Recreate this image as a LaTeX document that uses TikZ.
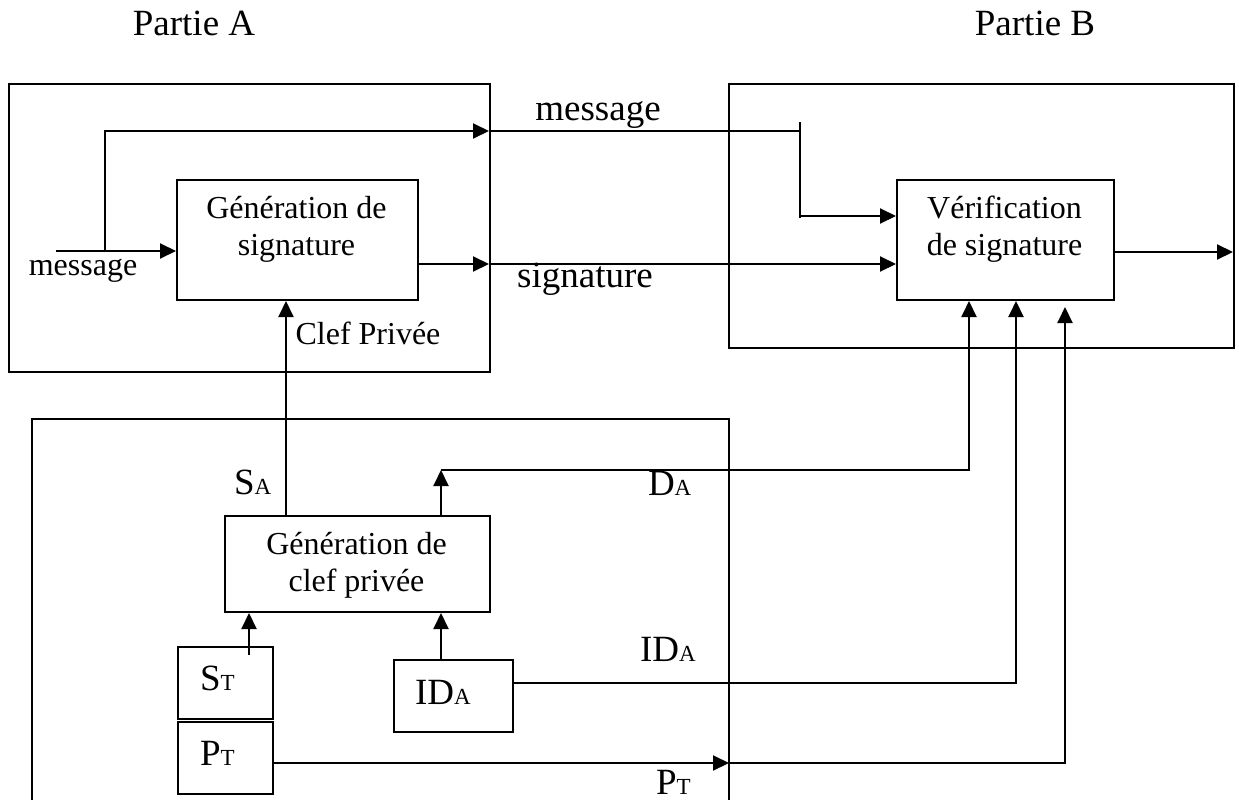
\documentclass[tikz,border=0pt]{standalone}
\usepackage{fontspec}
\setmainfont{Liberation Serif}
\usetikzlibrary{arrows.meta}
\newcommand\lsub[1]{{\fontsize{23}{23}\selectfont #1}}
\begin{document}
\begin{tikzpicture}[x=1pt,y=-1pt,line width=2pt,
  box/.style={draw,line width=2pt,inner sep=0pt,anchor=north west},
  btxt/.style={font=\fontsize{32}{37}\selectfont,align=center,inner sep=0pt},
  lbls/.style={font=\fontsize{32}{37}\selectfont,inner sep=0pt,anchor=base},
  lbl/.style={font=\fontsize{37}{40}\selectfont,inner sep=0pt,anchor=base},
  lblw/.style={font=\fontsize{37}{40}\selectfont,inner sep=0pt,anchor=base west},
  arr/.style={-{Triangle[length=16pt,width=15pt]}}]
\useasboundingbox (0,0) rectangle (1239,800);
\clip (0,0) rectangle (1239,800);
% titles
\node[lbl] (tA) at (194,36) {Partie A};
\node[lbl] (tB) at (1035,36) {Partie B};
% boxes
\node[box,minimum width=481pt,minimum height=288pt] (pA) at (8,83) {};
\node[box,minimum width=505pt,minimum height=264pt] (pB) at (728,83) {};
\node[box,minimum width=241pt,minimum height=120pt] (gs) at (176,179) {};
\node[box,minimum width=217pt,minimum height=120pt] (vs) at (896,179) {};
\node[box,minimum width=265pt,minimum height=96pt] (gk) at (224,515) {};
\node[box,minimum width=95pt,minimum height=72pt] (st) at (177,646) {};
\node[box,minimum width=95pt,minimum height=72pt] (pt) at (177,721) {};
\node[box,minimum width=119pt,minimum height=72pt] (ida) at (393,659) {};
\draw (32,810) |- (729,419) -- (729,810);
% box texts
\node[btxt] (gst) at (296.5,229) {Génération de\\signature};
\node[btxt] (vst) at (1004.5,229) {Vérification\\de signature};
\node[btxt] (gkt) at (356.5,565) {Génération de\\clef privée};
\node[lblw] (tst) at (199,690) {S\lsub{T}};
\node[lblw] (tpt) at (199,765) {P\lsub{T}};
\node[lblw] (tida) at (414,704) {ID\lsub{A}};
% labels
\node[lbls] (lmsg) at (83,275) {message};
\node[lbls] (lclef) at (368,344) {Clef Privée};
\node[lbl] (lmsg2) at (598,120) {message};
\node[lbl] (lsig) at (585,287) {signature};
\node[lblw] (lsa) at (233,494) {S\lsub{A}};
\node[lblw] (lda) at (647,495) {D\lsub{A}};
\node[lblw] (lida) at (639,661) {ID\lsub{A}};
\node[lblw] (lpt) at (655,794) {P\lsub{T}};
% coordinates
\coordinate (min) at (56,251);
\coordinate (msplit) at (105,251);
\coordinate (mA) at (489,131);
\coordinate (mj) at (800,131);
\coordinate (mjt) at (800,122);
\coordinate (mjb) at (800,218);
\coordinate (mjh) at (800,216);
\coordinate (sA) at (489,264);
\coordinate (oB) at (1233,252);
\coordinate (xc) at (286,0);
\coordinate (stin) at (249,655);
\coordinate (dak) at (441,470);
\coordinate (xda) at (969,0);
\coordinate (xid) at (1016,0);
\coordinate (idl) at (512,683);
\coordinate (ptC) at (729,763);
\coordinate (ptend) at (1065,307);
% connectors
\draw[arr] (min) -- (min -| gs.west);
\draw[arr] (msplit) |- (mA);
\draw (mA) -- (mj);
\draw (mjt) -- (mjb);
\draw[arr] (mjh) -- (mjh -| vs.west);
\draw[arr] (gs.east |- sA) -- (sA);
\draw[arr] (sA) -- (sA -| vs.west);
\draw[arr] (vs.east |- oB) -- (oB);
\draw[arr] (xc |- gk.north) -- (xc |- gs.south);
\draw[arr] (stin) -- (stin |- gk.south);
\draw[arr] (dak |- ida.north) -- (dak |- gk.south);
\draw[arr] (dak |- gk.north) -- (dak);
\draw[arr] (dak) -| (xda |- vs.south);
\draw[arr] (idl) -| (xid |- vs.south);
\draw[arr] (pt.east |- ptC) -- (ptC);
\draw[arr] (ptC) -| (ptend);
\end{tikzpicture}
\end{document}
